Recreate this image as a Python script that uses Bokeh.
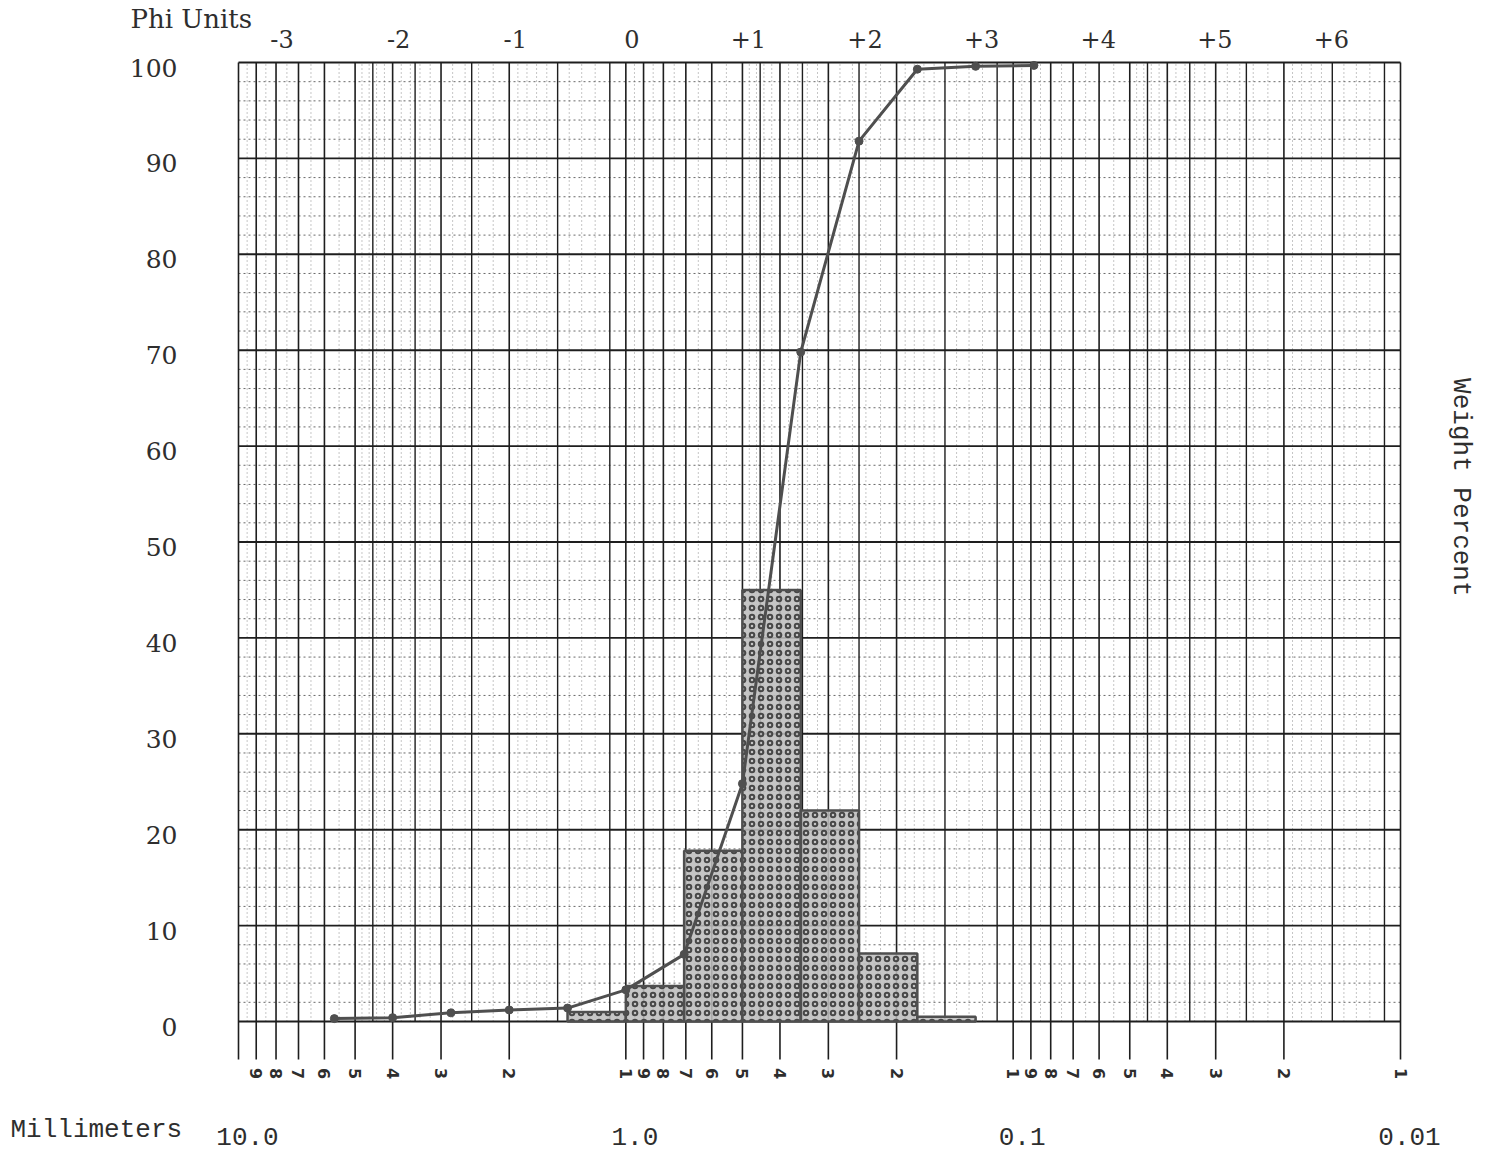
import math
from bokeh.plotting import figure
from bokeh.models import Range1d
from bokeh.core.properties import value
from bokeh.embed import file_html
from bokeh.resources import INLINE

# ---------------- data ----------------
# phi scale (top) and its labels
phi_ticks = [-3, -2, -1, 0, 1, 2, 3, 4, 5, 6]
phi_labels = ["-3", "-2", "-1", "0", "+1", "+2", "+3", "+4", "+5", "+6"]

# millimetre decades (bottom)
mm_decades = [10.0, 1.0, 0.1, 0.01]
mm_decade_labels = ["10.0", "1.0", "0.1", "0.01"]
mm_digits = [1, 2, 3, 4, 5, 6, 7, 8, 9]
digit_decades = [1.0, 0.1, 0.01]

# weight percent ticks
pct_ticks = [0, 10, 20, 30, 40, 50, 60, 70, 80, 90, 100]
pct_labels = [str(v) for v in pct_ticks]

# cumulative curve (phi, cumulative weight %)
curve_phi = [-2.5, -2.0, -1.5, -1.0, -0.5, 0.0, 0.5, 1.0, 1.5, 2.0, 2.5, 3.0, 3.5]
curve_pct = [0.3, 0.4, 0.9, 1.2, 1.4, 3.3, 7.0, 24.8, 69.8, 91.8, 99.3, 99.6, 99.7]

# histogram, half-phi classes (weight %)
class_lo_phi = [-0.5, 0.0, 0.5, 1.0, 1.5, 2.0, 2.5]
class_hi_phi = [0.0, 0.5, 1.0, 1.5, 2.0, 2.5, 3.0]
class_pct = [1.0, 3.7, 17.8, 45.0, 22.0, 7.1, 0.5]

# graph-paper rulings within one decade
paper_extra = [1.1, 1.5, 2.5, 3.5, 4.5]
paper_fine = [1.2, 1.3, 1.4, 1.6, 1.7, 1.8, 1.9, 2.2, 2.4, 2.6, 2.8, 3.2, 3.4,
              3.6, 3.8, 4.2, 4.4, 4.6, 4.8, 5.5, 6.5, 7.5, 8.5, 9.5]
pct_fine = [v for v in range(0, 101, 2) if v % 10 != 0]

# ---------------- layout constants (pixels) ----------------
W, H = 1480, 1155
X_10MM, X_001MM = 238.0, 1400.0      # where 10 mm and 0.01 mm sit
Y_100, Y_0 = 62.0, 1021.0            # where 100 % and 0 % sit
px_dec = (X_001MM - X_10MM) / 3.0
px_pct = (Y_0 - Y_100) / 100.0
x_start = 10 ** (1 + X_10MM / px_dec)
x_end = 10 ** (-2 - (W - X_001MM) / px_dec)
y_top = 100 + Y_100 / px_pct
y_bot = -(H - Y_0) / px_pct
TICK_PCT = -38 / px_pct               # tick lines run this far below the 0 line
X_LEFT, X_RIGHT = 10.0, 0.01          # paper edges (mm)
Y_LOW, Y_HIGH = 0.0, 100.0            # paper edges (%)

# ---------------- derived ----------------
def phi_to_mm(phi):
    return 2.0 ** (-phi)

digit_ticks, digit_text = [], []
for dec in digit_decades:
    for d in mm_digits:
        digit_ticks.append(d * dec)
        digit_text.append(str(d))
digit_lines = [X_LEFT] + digit_ticks
extra_lines = [v * dec for dec in digit_decades for v in paper_extra]
fine_lines = [v * dec for dec in digit_decades for v in paper_fine]

INK = "#1e1e1e"
TEXT = "#2e2e2e"
PLOT_INK = "#4f4f4f"

p = figure(
    x_axis_type="log", x_range=Range1d(x_start, x_end), y_range=Range1d(y_bot, y_top),
    width=W, height=H, min_border=0,
    x_axis_location=None, y_axis_location=None, title=None,
    output_backend="svg", toolbar_location=None,
    background_fill_color="white", border_fill_color="white",
)
p.outline_line_color = None
p.xgrid.visible = False
p.ygrid.visible = False

# ---------------- paper rulings ----------------
def vlines(xs, y0, y1, **kw):
    p.segment(x0=xs, y0=[y0] * len(xs), x1=xs, y1=[y1] * len(xs), **kw)

def hlines(ys, x0, x1, **kw):
    p.segment(x0=[x0] * len(ys), y0=ys, x1=[x1] * len(ys), y1=ys, **kw)

vlines(fine_lines, Y_LOW, Y_HIGH, line_color="#8c8c8c", line_width=1, line_dash="1 3")
hlines(pct_fine, X_LEFT, X_RIGHT, line_color="#6a6a6a", line_width=1, line_dash="2 3")
vlines(extra_lines, Y_LOW, Y_HIGH, line_color=INK, line_width=1.4)
vlines(digit_lines, TICK_PCT, Y_HIGH, line_color=INK, line_width=1.6)
hlines(pct_ticks, X_LEFT, X_RIGHT, line_color=INK, line_width=1.9)

# ---------------- histogram ----------------
p.quad(left=[phi_to_mm(v) for v in class_lo_phi], right=[phi_to_mm(v) for v in class_hi_phi],
       bottom=0, top=class_pct,
       fill_color="#bdbdbd", fill_alpha=0.88,
       hatch_pattern="ring", hatch_color="#3a3a3a", hatch_scale=9, hatch_weight=2,
       hatch_alpha=0.9,
       line_color=PLOT_INK, line_width=2.5)

# ---------------- cumulative curve ----------------
curve_mm = [phi_to_mm(v) for v in curve_phi]
p.line(curve_mm, curve_pct, line_color=PLOT_INK, line_width=3)
p.scatter(curve_mm, curve_pct, size=8, fill_color=PLOT_INK, line_color=PLOT_INK)

# ---------------- texts ----------------
serif = value("DejaVu Serif")
mono = value("Liberation Mono")

# weight-percent tick labels (left)
p.text(x=[X_LEFT] * len(pct_ticks), y=pct_ticks, text=pct_labels,
       x_offset=-61, y_offset=5, text_align="right", text_baseline="middle",
       text_font=serif, text_font_size=value("25px"), text_color=TEXT)

# phi tick labels (top)
p.text(x=[phi_to_mm(v) for v in phi_ticks], y=[Y_HIGH] * len(phi_ticks), text=phi_labels,
       x_offset=6, y_offset=-24, text_align="center", text_baseline="middle",
       text_font=serif, text_font_size=value("24px"), text_color=TEXT)
p.text(x=[X_LEFT], y=[Y_HIGH], text=["Phi Units"], x_offset=-108, y_offset=-44,
       text_align="left", text_baseline="middle",
       text_font=serif, text_font_size=value("26px"), text_color=TEXT)

# millimetre digit labels (bottom, rotated)
p.text(x=digit_ticks, y=[Y_LOW] * len(digit_ticks), text=digit_text,
       y_offset=52, angle=-math.pi / 2, text_align="center", text_baseline="middle",
       text_font=value("DejaVu Sans"), text_font_style="bold",
       text_font_size=value("16px"), text_color=TEXT)

# millimetre decade labels
p.text(x=mm_decades, y=[Y_LOW] * len(mm_decades), text=mm_decade_labels,
       x_offset=9, y_offset=115, text_align="center", text_baseline="middle",
       text_font=mono, text_font_size=value("26px"), text_color=TEXT)
p.text(x=[X_LEFT], y=[Y_LOW], text=["Millimeters"], x_offset=-228, y_offset=108,
       text_align="left", text_baseline="middle",
       text_font=mono, text_font_size=value("26px"), text_color=TEXT)

# right-hand title
p.text(x=[X_RIGHT], y=[55.7], text=["Weight Percent"], x_offset=60, angle=-math.pi / 2,
       text_align="center", text_baseline="middle",
       text_font=mono, text_font_size=value("26px"), text_color=TEXT)

open("out.html", "w").write(file_html(p, INLINE))
